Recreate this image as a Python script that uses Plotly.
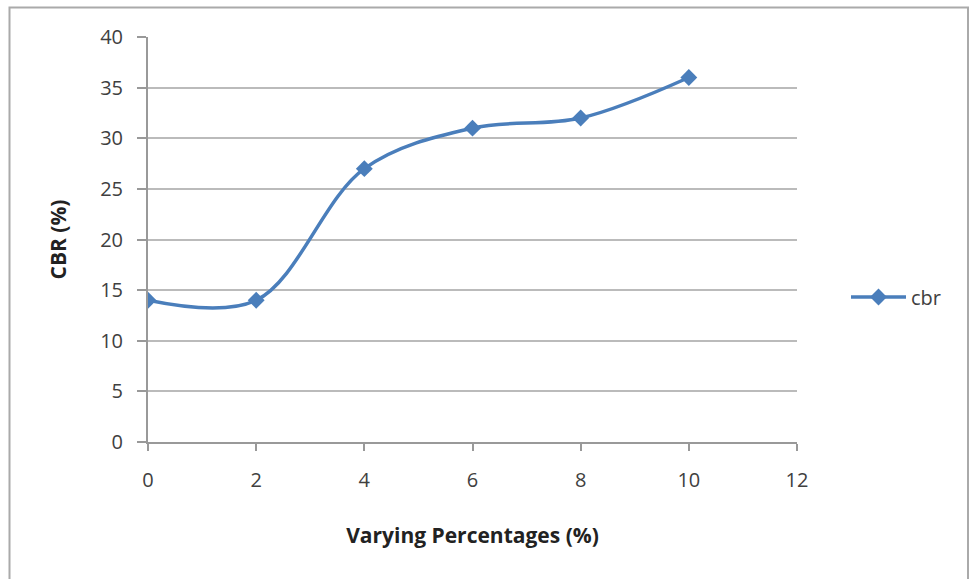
import plotly.graph_objects as go

x_vals = [0, 2, 4, 6, 8, 10]
cbr = [14, 14, 27, 31, 32, 36]
series_name = "cbr"
x_title = "Varying Percentages (%)"
y_title = "CBR (%)"

L, R, T, B = 148, 175, 37, 137
W, H = 972, 579
pw, ph = W - L - R, H - T - B

def px2paper_x(px):
    return (px - L) / pw

def px2paper_y(py):
    return (H - B - py) / ph

fig = go.Figure()
fig.add_trace(go.Scatter(
    x=x_vals, y=cbr, name=series_name, mode="lines+markers",
    line=dict(color="#4A7EBB", width=3.5, shape="spline", smoothing=1),
    marker=dict(symbol="diamond", size=13, color="#4A7EBB"),
))

fig.update_layout(
    width=W, height=H,
    margin=dict(l=L, r=R, t=T, b=B),
    paper_bgcolor="white", plot_bgcolor="white",
    font=dict(family="'Open Sans', sans-serif", size=20, color="#404040"),
    showlegend=True,
    legend=dict(x=px2paper_x(846), y=px2paper_y(297), xanchor="left", yanchor="middle",
                itemwidth=55, font=dict(size=20, color="#404040"), bgcolor="rgba(0,0,0,0)"),
    xaxis=dict(range=[0, 12], tickvals=[0, 2, 4, 6, 8, 10, 12], showgrid=False,
               zeroline=False, showline=True, linecolor="#999999", linewidth=2,
               ticks="outside", ticklen=7, tickcolor="#999999", tickwidth=2,
               ticklabelstandoff=12,
               title=dict(text="<b>" + x_title + "</b>", font=dict(size=21, color="#222222"), standoff=36)),
    yaxis=dict(range=[0, 40], dtick=5, showgrid=True, gridcolor="#BBBBBB", gridwidth=2,
               zeroline=False, showline=True, linecolor="#999999", linewidth=2,
               ticks="outside", ticklen=9, tickcolor="#999999", tickwidth=2,
               ticklabelstandoff=10,
               title=dict(text="<b>" + y_title + "</b>", font=dict(size=21, color="#222222"), standoff=28)),
)

fig.add_shape(type="rect", xref="paper", yref="paper",
              x0=px2paper_x(9.5), x1=px2paper_x(968), y0=px2paper_y(600), y1=px2paper_y(7.5),
              line=dict(color="#AAAAAA", width=2), fillcolor="rgba(0,0,0,0)", layer="below")

fig.write_html("out.html")
